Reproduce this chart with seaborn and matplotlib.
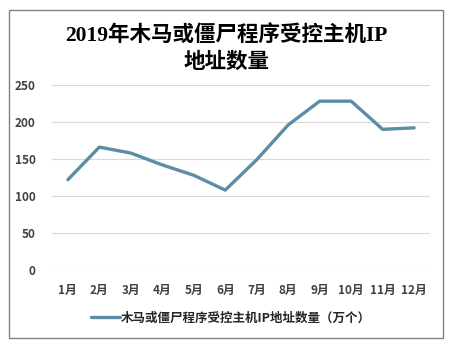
import matplotlib
matplotlib.use("Agg")
import matplotlib.pyplot as plt
import seaborn as sns
import pandas as pd
from matplotlib.patches import Rectangle

months = ["1月", "2月", "3月", "4月", "5月", "6月", "7月", "8月", "9月", "10月", "11月", "12月"]
values = [122, 166, 158, 142, 128, 108, 149, 196, 228, 228, 190, 192]
series_name = "木马或僵尸程序受控主机IP地址数量（万个）"
title = "2019年木马或僵尸程序受控主机IP\n地址数量"
yticks = [0, 50, 100, 150, 200, 250]

sns.set_theme(style="white")
plt.rcParams['font.family'] = ['Noto Sans CJK SC', 'DejaVu Sans']

df = pd.DataFrame({"month": months, "value": values})

fig = plt.figure(figsize=(4.53, 3.45), dpi=100)
ax = fig.add_axes([0.115, 0.217, 0.834, 0.537])
line_color = "#5b8ea4"
sns.lineplot(data=df, x="month", y="value", ax=ax, color=line_color, linewidth=2.4,
             sort=False, label=series_name, legend=False)

ax.set_ylim(0, 250)
ax.set_xlim(-0.5, 11.5)
ax.set_yticks(yticks)
ax.set_yticklabels([str(v) for v in yticks])
ax.yaxis.grid(True, color="#d9d9d9", linewidth=0.8)
ax.xaxis.grid(False)
for s in ax.spines.values():
    s.set_visible(False)
ax.set_xlabel("")
ax.set_ylabel("")
ax.tick_params(axis="both", length=0, labelsize=8.5, labelcolor="#404040")
ax.tick_params(axis="x", pad=10)
ax.tick_params(axis="y", pad=12)
for lbl in ax.get_xticklabels() + ax.get_yticklabels():
    lbl.set_fontweight("bold")

fig.text(0.5, 0.858, title, ha="center", va="center", fontsize=15.5, fontweight="bold",
         family=['Liberation Serif', 'Noto Sans CJK SC'], color="#000000", linespacing=1.4)

leg = fig.legend(handles=ax.get_lines(), labels=[series_name], loc="center",
                 bbox_to_anchor=(0.51, 0.078), frameon=False, fontsize=9,
                 handlelength=2.3, handletextpad=0.1)
for t in leg.get_texts():
    t.set_fontweight("bold")
    t.set_color("#262626")

fig.patches.append(Rectangle((0.02, 0.02), 0.958, 0.951, transform=fig.transFigure,
                             fill=False, edgecolor="#808080", linewidth=1.0))

fig.savefig("out.png", dpi=100)
